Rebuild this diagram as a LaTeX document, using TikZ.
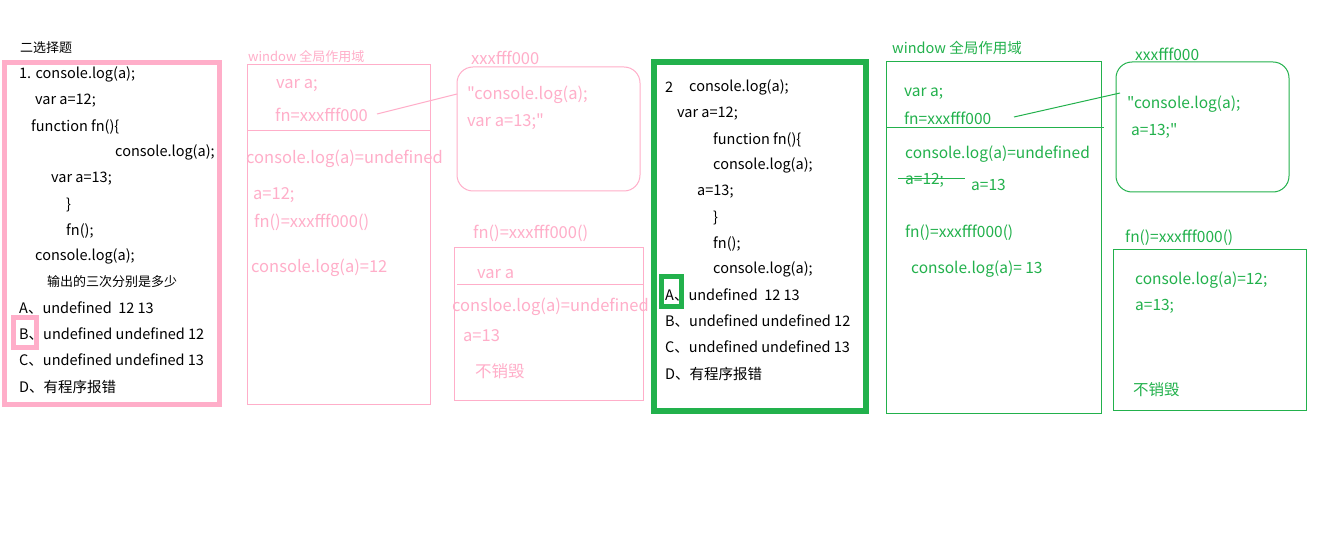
\documentclass[tikz,border=0pt]{standalone}
\usepackage{fontspec}
\setmainfont{Noto Sans CJK SC}[Ligatures=TeXOff]
\definecolor{pk}{HTML}{FFAEC9}
\definecolor{gr}{HTML}{22B14C}
\tikzset{
  code/.style={anchor=west, inner sep=0pt, yshift=-1.5pt, text=black, font=\fontsize{14.5}{17}\selectfont},
  small/.style={anchor=west, inner sep=0pt, yshift=-1pt, font=\fontsize{13}{16}\selectfont},
  ptxt/.style={anchor=west, inner sep=0pt, yshift=-1.5pt, text=pk, font=\fontsize{16.5}{19}\selectfont},
  gtxt/.style={anchor=west, inner sep=0pt, yshift=-1.5pt, text=gr, font=\fontsize{15.5}{19}\selectfont},
  boxnode/.style={anchor=north west, inner sep=0pt, outer sep=0pt},
  thickpk/.style={boxnode, draw=pk, line width=5pt},
  thickgr/.style={boxnode, draw=gr, line width=5.5pt},
  thinpk/.style={draw=pk, line width=1pt},
  thingr/.style={draw=gr, line width=1pt},
}
\begin{document}
\begin{tikzpicture}[x=1pt,y=-1pt]
\useasboundingbox (0,0) rectangle (1325,545);
\fill[white] (0,0) rectangle (1325,545);
% ---------- question 1 ----------
\node[small, text=black] (t1) at (20,47) {二选择题};
\node[thickpk, minimum width=215pt, minimum height=342pt] (q1) at (4.5,62.5) {};
\node[code] (q1l1) at (19,73) {1. console.log(a);};
\node[code] (q1l2) at (35,99) {var a=12;};
\node[code] (q1l3) at (31,125) {function fn()\{};
\node[code] (q1l4) at (115,151) {console.log(a);};
\node[code] (q1l5) at (51,177) {var a=13;};
\node[code] (q1l6) at (66,203) {\}};
\node[code] (q1l7) at (66,229) {fn();};
\node[code] (q1l8) at (35,255) {console.log(a);};
\node[small, text=black] (q1l9) at (47,281) {输出的三次分别是多少};
\node[code] (q1a) at (19,307) {A、undefined\ \ 12 13};
\node[code] (q1b) at (19,333) {B、undefined undefined 12};
\node[code] (q1c) at (19,359) {C、undefined undefined 13};
\node[code] (q1d) at (19,385) {D、有程序报错};
\node[thickpk, minimum width=23pt, minimum height=30pt] (q1mark) at (13,317) {};
% ---------- pink window scope ----------
\node[small, text=pk] (pwt) at (248,56) {window 全局作用域};
\node[boxnode, thinpk, minimum width=183pt, minimum height=339pt] (pw) at (247,65) {};
\coordinate (pwl) at (247,131);
\coordinate (pwr) at (430,131);
\draw[thinpk] (pwl) -- (pwr);
\node[ptxt] (pw1) at (276,84) {var a;};
\node[ptxt] (pw2) at (275,113) {fn=xxxfff000};
\node[ptxt] (pw3) at (246,157) {console.log(a)=undefined};
\node[ptxt] (pw4) at (253,194) {a=12;};
\node[ptxt] (pw5) at (254,221) {fn()=xxxfff000()};
\node[ptxt] (pw6) at (251,266) {console.log(a)=12};
% pink heap
\node[ptxt] (ph) at (471,56) {xxxfff000};
\node[boxnode, thinpk, rounded corners=16pt, minimum width=183pt, minimum height=124pt] (phb) at (457,67) {};
\node[ptxt] (ph1) at (467,93) {"console.log(a);};
\node[ptxt] (ph2) at (467,120) {var a=13;"};
\coordinate (phin) at (457,94);
\coordinate (phout) at (377,114);
\draw[thinpk] (phout) -- (phin);
% pink fn scope
\node[ptxt] (pf) at (473,232) {fn()=xxxfff000()};
\node[boxnode, thinpk, minimum width=189pt, minimum height=152pt] (pfb) at (454,248) {};
\coordinate (pfl) at (457,285);
\coordinate (pfr) at (643,285);
\draw[thinpk] (pfl) -- (pfr);
\node[ptxt] (pf1) at (477,273) {var a};
\node[ptxt] (pf2) at (452,305) {consloe.log(a)=undefined};
\node[ptxt] (pf3) at (463,334) {a=13};
\node[ptxt] (pf4) at (475,370) {不销毁};
% ---------- question 2 ----------
\node[thickgr, minimum width=212pt, minimum height=349pt] (q2) at (654,62) {};
\node[code] (q2n) at (665,86) {2};
\node[code] (q2l1) at (689,86) {console.log(a);};
\node[code] (q2l2) at (677,112) {var a=12;};
\node[code] (q2l3) at (713,138) {function fn()\{};
\node[code] (q2l4) at (713,164) {console.log(a);};
\node[code] (q2l5) at (697,190) {a=13;};
\node[code] (q2l6) at (713,216) {\}};
\node[code] (q2l7) at (713,242) {fn();};
\node[code] (q2l8) at (713,268) {console.log(a);};
\node[code] (q2a) at (665,294) {A、undefined\ \ 12 13};
\node[code] (q2b) at (665,320) {B、undefined undefined 12};
\node[code] (q2c) at (665,346) {C、undefined undefined 13};
\node[code] (q2d) at (665,372) {D、有程序报错};
\node[thickgr, line width=5pt, minimum width=20pt, minimum height=30pt] (q2mark) at (661.5,276.5) {};
% ---------- green window scope ----------
\node[gtxt, font=\fontsize{14.5}{17}\selectfont] (gwt) at (892,46) {window 全局作用域};
\node[boxnode, thingr, minimum width=215pt, minimum height=351pt] (gw) at (886,62) {};
\coordinate (gwl) at (886,128);
\coordinate (gwr) at (1104,128);
\draw[thingr] (gwl) -- (gwr);
\node[gtxt] (gw1) at (904,92) {var a;};
\node[gtxt] (gw2) at (904,117) {fn=xxxfff000};
\node[gtxt] (gw3) at (905,153) {console.log(a)=undefined};
\node[gtxt] (gw4) at (905,179) {a=12;};
\coordinate (sk1) at (898,179);
\coordinate (sk2) at (965,179);
\draw[thingr] (sk1) -- (sk2);
\node[gtxt] (gw5) at (971,183) {a=13};
\node[gtxt] (gw6) at (905,231) {fn()=xxxfff000()};
\node[gtxt] (gw7) at (911,268) {console.log(a)=\ 13};
% green heap
\node[gtxt] (gh) at (1135,53) {xxxfff000};
\node[boxnode, thingr, rounded corners=16pt, minimum width=173pt, minimum height=130pt] (ghb) at (1116,62) {};
\node[gtxt] (gh1) at (1127,103) {"console.log(a);};
\node[gtxt] (gh2) at (1131,129) {a=13;"};
\coordinate (ghin) at (1120,93);
\coordinate (ghout) at (1014,117);
\draw[thingr] (ghout) -- (ghin);
% green fn scope
\node[gtxt] (gf) at (1125,236) {fn()=xxxfff000()};
\node[boxnode, thingr, minimum width=193pt, minimum height=160pt] (gfb) at (1113,250) {};
\node[gtxt] (gf1) at (1135,279) {console.log(a)=12;};
\node[gtxt] (gf2) at (1135,305) {a=13;};
\node[gtxt] (gf3) at (1133,388) {不销毁};
\end{tikzpicture}
\end{document}
